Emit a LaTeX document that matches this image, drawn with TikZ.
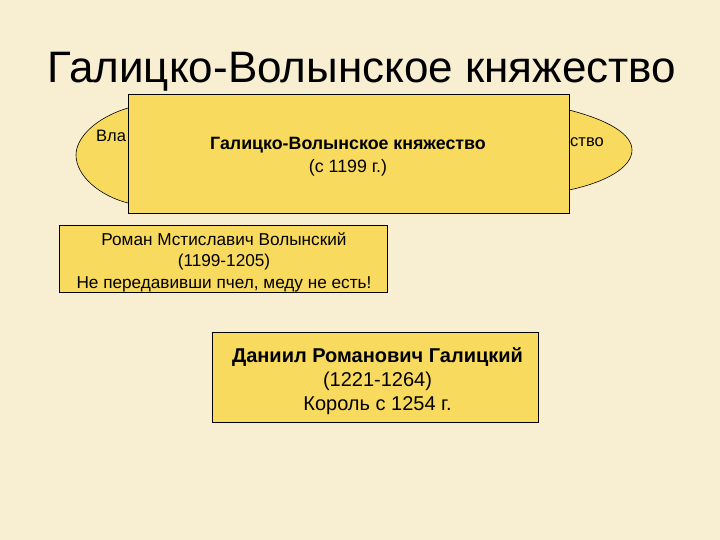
\documentclass[tikz,border=0pt]{standalone}
\usepackage{fontspec}
\setmainfont{Liberation Sans}
\definecolor{bg}{HTML}{F8EED2}
\definecolor{boxfill}{HTML}{F8DA5E}
\tikzset{
  ybox/.style={draw=black, line width=0.8pt, fill=boxfill, rectangle, inner sep=0pt},
  lbl/.style={anchor=base, inner sep=0pt},
}
\begin{document}
\begin{tikzpicture}[x=1pt,y=-1pt]
\path[fill=bg] (0,0) rectangle (720,540);
\useasboundingbox (0,0) rectangle (720,540);
\node[lbl, font=\fontsize{44}{48}\selectfont] (title) at (362,83) {Галицко-Волынское княжество};
% partly hidden oval
\draw[line width=0.6pt, fill=boxfill]
  (128,108) .. controls (95,118) and (76,138) .. (76,155)
  .. controls (76,176) and (100,196) .. (128,203)
  -- (569,190)
  .. controls (607,182) and (632,167) .. (632,150)
  .. controls (632,134) and (608,120) .. (569,110) -- cycle;
\node[anchor=base west, font=\fontsize{16.5}{18}\selectfont, inner sep=0pt] (l1) at (96,142) {Вла};
\node[anchor=base east, font=\fontsize{16.5}{18}\selectfont, inner sep=0pt] (l2) at (604,147) {ство};
% main box
\node[ybox, minimum width=441pt, minimum height=119pt] (gv) at (348.5,153.5) {};
\node[lbl, font=\fontsize{17.8}{20}\bfseries] (gv1) at (348,150) {Галицко-Волынское княжество};
\node[lbl, font=\fontsize{17.8}{20}\selectfont] (gv2) at (348,173) {(с 1199 г.)};
% Roman
\node[ybox, minimum width=328pt, minimum height=67pt] (roman) at (223,258.5) {};
\node[lbl, font=\fontsize{17.2}{20}\selectfont] (r1) at (224,245) {Роман Мстиславич Волынский};
\node[lbl, font=\fontsize{17.2}{20}\selectfont] (r2) at (224,266.5) {(1199-1205)};
\node[lbl, font=\fontsize{17.2}{20}\selectfont] (r3) at (224,288) {Не передавивши пчел, меду не есть!};
% Daniil
\node[ybox, minimum width=326pt, minimum height=90pt] (dan) at (375,377) {};
\node[lbl, font=\fontsize{20}{22}\bfseries] (d1) at (377.5,362) {Даниил Романович Галицкий};
\node[lbl, font=\fontsize{20}{22}\selectfont] (d2) at (377.5,386) {(1221-1264)};
\node[lbl, font=\fontsize{20}{22}\selectfont] (d3) at (377.5,410) {Король с 1254 г.};
\end{tikzpicture}
\end{document}
